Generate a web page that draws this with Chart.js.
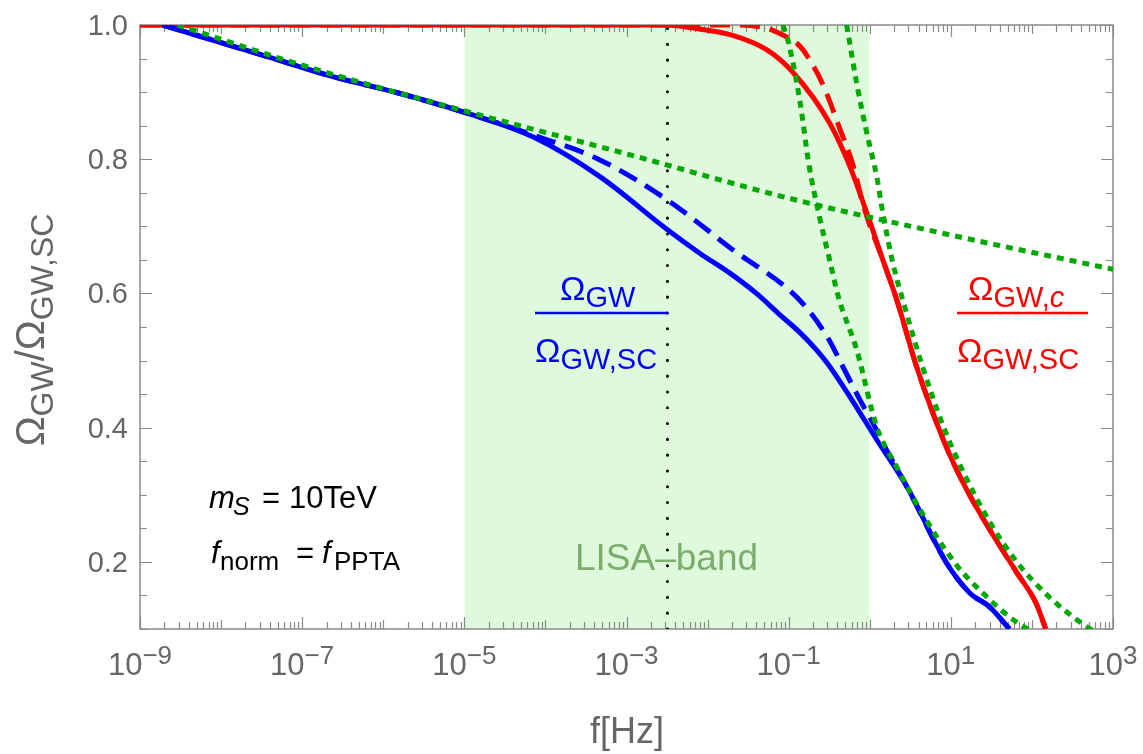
<!DOCTYPE html>
<html>
<head>
<meta charset="utf-8">
<script src="https://cdn.jsdelivr.net/npm/chart.js@4.4.1/dist/chart.umd.min.js"></script>
<style>
  html, body { margin: 0; padding: 0; background: #fff; }
  #wrap { width: 1143px; height: 754px; }
</style>
</head>
<body>
<div id="wrap"><canvas id="myChart" width="1143" height="754"></canvas></div>
<script>
// 값은 그림에서 읽은 것 (f 는 Hz)
const blueSolidF = [1.9e-9, 3.7e-8, 2.4e-7, 1.5e-6, 1.05e-5, 7.1e-5, 4.7e-4, 3.2e-3, 8e-3, 2.0e-2, 4.0e-2, 8.0e-2, 0.137, 0.22, 0.30, 0.57, 1.22, 2.87, 8.9, 17, 30, 53];
const blueSolidY = [1.0, 0.953, 0.923, 0.899, 0.869, 0.833, 0.774, 0.695, 0.66, 0.628, 0.60, 0.567, 0.542, 0.516, 0.496, 0.446, 0.382, 0.312, 0.198, 0.154, 0.133, 0.10];

const blueDashF = [1.9e-9, 3.7e-8, 2.4e-7, 1.5e-6, 1.05e-5, 7.1e-5, 4.7e-4, 3.2e-3, 2.0e-2, 0.137, 0.30, 0.47, 0.76, 1.22, 1.45, 2.87, 8.9, 17, 30, 53];
const blueDashY = [1.0, 0.953, 0.923, 0.899, 0.869, 0.836, 0.799, 0.739, 0.666, 0.59, 0.535, 0.49, 0.441, 0.396, 0.377, 0.312, 0.198, 0.154, 0.133, 0.10];

const redSolidF = [1e-9, 3e-3, 8e-3, 2.0e-2, 5.4e-2, 0.112, 0.32, 0.57, 0.92, 1.45, 2.16, 3.8, 8.4, 15, 32, 66, 112, 148];
const redSolidY = [1.0, 1.0, 0.994, 0.985, 0.963, 0.93, 0.854, 0.789, 0.72, 0.65, 0.59, 0.49, 0.377, 0.312, 0.243, 0.183, 0.139, 0.10];

const redDashF = [1e-9, 2.0e-2, 5.4e-2, 8.5e-2, 0.12, 0.15, 0.26, 0.42, 0.63, 0.80, 0.98, 1.45, 2.16, 3.8, 8.4, 15, 32, 66, 112, 148];
const redDashY = [1.0, 1.0, 0.995, 0.985, 0.975, 0.963, 0.913, 0.848, 0.789, 0.739, 0.705, 0.65, 0.59, 0.49, 0.377, 0.312, 0.243, 0.183, 0.139, 0.10];

// 초록 점선 세 개 (근사식)
const greenAF = [2.9e-9, 1e-7, 1e-5, 1e-3, 0.1, 10, 1000];
const greenAY = [1.0, 0.94, 0.872, 0.808, 0.742, 0.687, 0.636];

const greenBF = [0.085, 0.10, 0.137, 0.18, 0.24, 0.32, 0.41, 0.69, 1.22, 2.16, 5.0, 11.8, 24.6, 53, 94];
const greenBY = [1.0, 0.973, 0.888, 0.788, 0.714, 0.65, 0.595, 0.516, 0.401, 0.341, 0.262, 0.195, 0.154, 0.118, 0.098];

const greenCF = [0.52, 0.69, 0.92, 1.22, 1.45, 1.93, 2.7, 4.5, 7.9, 14, 30, 65, 166, 427, 560];
const greenCY = [1.0, 0.913, 0.839, 0.774, 0.72, 0.645, 0.58, 0.49, 0.405, 0.336, 0.26, 0.2, 0.147, 0.107, 0.098];

// LISA 대역, 기준 주파수
const lisaBand = [1e-5, 1];
const fNorm = 3.2e-3;

// 축 눈금
const xMin = 1e-9, xMax = 1e3;
const yMin = 0.1, yMax = 1.0;
const xLabelExps = [-9, -7, -5, -3, -1, 1, 3];
const yLabels = [0.2, 0.4, 0.6, 0.8, 1.0];

const FONT = '"Liberation Sans", Arial, Helvetica, sans-serif';
const GRAY = '#666666';
const FRAME = '#8a8a8a';

function pts(xs, ys) {
    return xs.map((x, i) => ({ x: x, y: ys[i] }));
}

function setFont(ctx, size, italic) {
    ctx.font = (italic ? 'italic ' : '') + size + 'px ' + FONT;
}

// [텍스트, 크기, 세로이동, 이탤릭]
function partsWidth(ctx, parts) {
    let w = 0;
    parts.forEach(p => { setFont(ctx, p[1], p[3]); w += ctx.measureText(p[0]).width; });
    return w;
}

function drawParts(ctx, parts, x, y) {
    let cx = x;
    parts.forEach(p => {
        setFont(ctx, p[1], p[3]);
        ctx.fillText(p[0], cx, y + (p[2] || 0));
        cx += ctx.measureText(p[0]).width;
    });
    return cx - x;
}

// 위치를 직접 주는 텍스트 조각 [텍스트, x, 크기, 세로이동, 이탤릭]
function drawAt(ctx, pieces, y) {
    pieces.forEach(p => {
        setFont(ctx, p[2], p[4]);
        ctx.fillText(p[0], p[1], y + (p[3] || 0));
    });
}

// 프레임과 안쪽 눈금
function drawFrame(chart) {
    const ctx = chart.ctx;
    const a = chart.chartArea;
    const xs = chart.scales.x, ys = chart.scales.y;
    ctx.save();
    ctx.strokeStyle = FRAME;
    ctx.lineWidth = 1.2;
    for (let n = -9; n <= 3; n++) {
        for (let m = 1; m <= 9; m++) {
            const v = m * Math.pow(10, n);
            if (v > xMax * 1.0001) break;
            const px = Math.round(xs.getPixelForValue(v)) + 0.5;
            let len = 7;
            if (m === 1) len = xLabelExps.includes(n) ? 12 : 9;
            ctx.beginPath();
            ctx.moveTo(px, a.bottom); ctx.lineTo(px, a.bottom - len);
            ctx.moveTo(px, a.top); ctx.lineTo(px, a.top + len);
            ctx.stroke();
        }
    }
    for (let k = 2; k <= 20; k++) {
        const v = k * 0.05;
        const py = Math.round(ys.getPixelForValue(v)) + 0.5;
        const len = (k % 4 === 0) ? 12 : 7;
        ctx.beginPath();
        ctx.moveTo(a.left, py); ctx.lineTo(a.left + len, py);
        ctx.moveTo(a.right, py); ctx.lineTo(a.right - len, py);
        ctx.stroke();
    }
    ctx.lineWidth = 1.5;
    ctx.strokeRect(a.left, a.top, a.right - a.left, a.bottom - a.top);
    ctx.restore();
}

const framePlugin = {
    id: 'framePlugin',
    afterDatasetDraw(chart, args) {
        if (args.index === 0) drawFrame(chart);
    },
    afterDraw(chart) {
        const ctx = chart.ctx;
        const xs = chart.scales.x, ys = chart.scales.y;
        ctx.save();
        ctx.textBaseline = 'alphabetic';
        ctx.fillStyle = GRAY;

        // y 눈금 라벨
        setFont(ctx, 29, false);
        ctx.textAlign = 'right';
        yLabels.forEach(v => {
            ctx.fillText(v.toFixed(1), 128, ys.getPixelForValue(v) + 10);
        });
        ctx.textAlign = 'left';

        // x 눈금 라벨 10^n
        xLabelExps.forEach(n => {
            const exp = n < 0 ? '\u2212' + (-n) : String(n);
            const parts = [['10', 31, 0], [exp, 26, -11]];
            const w = partsWidth(ctx, parts);
            drawParts(ctx, parts, xs.getPixelForValue(Math.pow(10, n)) - w / 2, 675);
        });

        // 축 제목
        setFont(ctx, 36, false);
        ctx.textAlign = 'center';
        ctx.fillText('f[Hz]', 627, 743);
        ctx.textAlign = 'left';

        ctx.save();
        ctx.translate(0, 330);
        ctx.rotate(-Math.PI / 2);
        const yt = [['\u03A9', 40, 0], ['GW', 32, 9], ['/', 40, 0], ['\u03A9', 40, 0], ['GW,SC', 32, 9]];
        const yw = partsWidth(ctx, yt);
        drawParts(ctx, yt, -yw / 2, 44);
        ctx.restore();

        // 파란 분수
        ctx.fillStyle = '#0000ff';
        ctx.strokeStyle = '#0000ff';
        ctx.lineWidth = 2.5;
        drawParts(ctx, [['\u03A9', 34, 0], ['GW', 29, 7]], 560, 300);
        ctx.beginPath(); ctx.moveTo(535, 313); ctx.lineTo(668, 313); ctx.stroke();
        drawParts(ctx, [['\u03A9', 34, 0], ['GW,SC', 29, 7]], 535, 362);

        // 빨간 분수
        ctx.fillStyle = '#ff0000';
        ctx.strokeStyle = '#ff0000';
        drawParts(ctx, [['\u03A9', 34, 0], ['GW,', 29, 7], ['c', 29, 7, true]], 968, 300);
        ctx.beginPath(); ctx.moveTo(957, 313); ctx.lineTo(1088, 313); ctx.stroke();
        drawParts(ctx, [['\u03A9', 34, 0], ['GW,SC', 29, 7]], 957, 362);

        // 파라미터
        ctx.fillStyle = '#000000';
        drawAt(ctx, [['m', 209, 31, 0, true], ['S', 233, 25, 7, true], ['=', 262, 31, 0], ['10TeV', 289, 31, 0]], 508);
        drawAt(ctx, [['f', 211, 31, 0, true], ['norm', 220, 26, 7], ['=', 296, 31, 0], ['f', 322, 31, 0, true], ['PPTA', 334, 26, 7]], 563);

        // LISA 대역 라벨
        ctx.fillStyle = '#7bae6c';
        setFont(ctx, 37, false);
        ctx.fillText('LISA\u2013band', 575, 570);

        ctx.restore();
    }
};

function lineSet(xs, ys, color, dash, order) {
    return {
        data: pts(xs, ys),
        borderColor: color,
        borderWidth: 5,
        borderDash: dash,
        pointRadius: 0,
        fill: false,
        cubicInterpolationMode: 'monotone',
        order: order
    };
}

document.addEventListener('DOMContentLoaded', function() {
    const ctx = document.getElementById('myChart').getContext('2d');
    const green = 'rgb(0,168,0)';
    new Chart(ctx, {
        type: 'line',
        data: {
            datasets: [
                {
                    // LISA 대역 음영
                    data: [{ x: lisaBand[0], y: yMax }, { x: lisaBand[1], y: yMax }],
                    borderWidth: 0,
                    pointRadius: 0,
                    backgroundColor: 'rgb(223,249,220)',
                    fill: 'start',
                    order: 10
                },
                {
                    // f_norm 수직 점선
                    data: [{ x: fNorm, y: yMin }, { x: fNorm, y: yMax }],
                    borderColor: '#000000',
                    borderWidth: 3,
                    borderDash: [0.1, 15.7],
                    borderCapStyle: 'round',
                    pointRadius: 0,
                    fill: false,
                    order: 9
                },
                lineSet(redSolidF, redSolidY, '#ff0000', [], 6),
                lineSet(redDashF, redDashY, '#ff0000', [20, 10], 5),
                lineSet(blueSolidF, blueSolidY, '#0000ff', [], 4),
                lineSet(blueDashF, blueDashY, '#0000ff', [20, 10], 3),
                lineSet(greenAF, greenAY, green, [7, 6], 2),
                lineSet(greenBF, greenBY, green, [7, 6], 1),
                lineSet(greenCF, greenCY, green, [7, 6], 0)
            ]
        },
        options: {
            responsive: false,
            animation: false,
            layout: { padding: { left: 140, right: 30, top: 25, bottom: 125 } },
            scales: {
                x: { type: 'logarithmic', min: xMin, max: xMax, display: false },
                y: { type: 'linear', min: yMin, max: yMax, display: false }
            },
            plugins: {
                legend: { display: false },
                tooltip: { enabled: false }
            }
        },
        plugins: [framePlugin]
    });
});
</script>
</body>
</html>
